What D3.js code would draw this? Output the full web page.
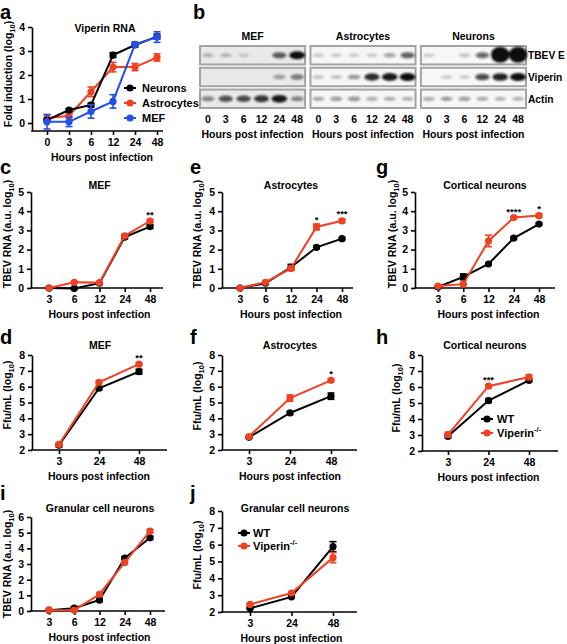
<!DOCTYPE html>
<html><head><meta charset="utf-8">
<script src="https://cdn.jsdelivr.net/npm/d3@7"></script>
<style>
body{margin:0;background:#fff}
svg{display:block}
text{font-family:"Liberation Sans",Arial,Helvetica,sans-serif;font-weight:bold;fill:#000}
</style>
</head><body>
<svg id="chart" width="567" height="644"></svg>
<script>
// ---------------- DATA ----------------
// Panel a: Viperin RNA fold induction (log10)
const hoursA = ["0","3","6","12","24","48"];
const aYTicks = [0,1,2,3,4];
const aNeurons = [0.12,0.54,0.75,2.83,3.25,3.6];
const aNeuronsErr = [0.05,0.06,0.08,0.1,0.08,0.1];
const aAstro = [0.2,0.3,1.3,2.33,2.33,2.73];
const aAstroErr = [0.15,0.1,0.2,0.2,0.15,0.15];
const aMEF = [0.05,0.05,0.48,0.9,3.28,3.58];
const aMEFErr = [0.3,0.2,0.28,0.28,0.1,0.22];
const aLegend = ["Neurons","Astrocytes","MEF"];

// Panel b: western blot band intensities (0..1, >1 saturated)
const blotLanes = ["0","3","6","12","24","48"];
const blotProteins = ["TBEV E","Viperin","Actin"];
const blotCells = ["MEF","Astrocytes","Neurons"];
const mefBands = [[0.12,0.12,0.02,0,0.6,1.0],[0,0,0,0,0.28,0.45],[0.4,0.65,0.7,0.8,0.95,0.4]];
const astroBands = [[0.06,0.06,0.05,0.05,0.25,0.6],[0.1,0.1,0.32,0.85,0.95,1.0],[0.2,0.28,0.32,0.18,0.18,0.16]];
const neuronBands = [[0.05,0,0.1,0.55,1.4,1.4],[0,0.05,0.05,0.7,0.9,1.0],[0.22,0.26,0.28,0.2,0.15,0.15]];

// TBEV RNA panels (c, e, g)
const hoursRNA = ["3","6","12","24","48"];
const rnaTicks = [0,1,2,3,4,5];
const cWT = [0,-0.02,0.25,2.65,3.2],  cWTErr = [0.03,0.03,0.05,0.08,0.1];
const cKO = [0,0.3,0.28,2.72,3.49],   cKOErr = [0.03,0.05,0.05,0.08,0.08];
const cStars = ["","","","","**"];
const eWT = [0,0.25,1.08,2.12,2.57], eWTErr = [0.03,0.05,0.15,0.08,0.06];
const eKO = [0,0.3,1.02,3.18,3.5],   eKOErr = [0.03,0.05,0.1,0.15,0.1];
const eStars = ["","","","*","***"];
const gWT = [0.05,0.58,1.25,2.6,3.33], gWTErr = [0.03,0.15,0.05,0.05,0.06];
const gKO = [0.1,0.2,2.45,3.67,3.77],  gKOErr = [0.03,0.03,0.3,0.05,0.1];
const gStars = ["","","","****","*"];

// Ffu panels (d, f, h)
const hoursFfu = ["3","24","48"];
const ffuTicks = [2,3,4,5,6,7,8];
const dWT = [2.3,5.9,6.95],  dWTErr = [0.1,0.1,0.15];
const dKO = [2.35,6.28,7.42], dKOErr = [0.1,0.1,0.08];
const dStars = ["","","**"];
const fWT = [2.8,4.34,5.4],  fWTErr = [0.05,0.1,0.2];
const fKO = [2.85,5.28,6.4], fKOErr = [0.05,0.2,0.1];
const fStars = ["","","*"];
const hWT = [2.92,5.15,6.42], hWTErr = [0.1,0.12,0.08];
const hKO = [3.02,6.05,6.62], hKOErr = [0.15,0.08,0.15];
const hStars = ["","***",""];

// Granular cell neurons (i, j)
const rnaTicksI = [0,1,2,3,4,5,6];
const iWT = [0.05,0.18,0.7,3.38,4.67], iWTErr = [0.03,0.1,0.1,0.08,0.1];
const iKO = [0.05,0.05,1.07,3.1,5.1],  iKOErr = [0.03,0.03,0.1,0.1,0.1];
const jWT = [2.22,2.9,5.88], jWTErr = [0.05,0.05,0.3];
const jKO = [2.45,3.13,5.23], jKOErr = [0.05,0.05,0.3];
const legendKO = ["WT","Viperin"];

// ---------------- STYLE ----------------
const BLACK = "#000", RED = "#ef4123", BLUE = "#2350e6";
const FS = 10.5;
const svg = d3.select("#chart");

function panelLetter(t, x, y){
  svg.append("text").attr("x",x).attr("y",y).attr("font-size",20).text(t);
}

function yLabel(x, cy, main, sub, tail){
  const t = svg.append("text").attr("transform",`translate(${x},${cy}) rotate(-90)`)
    .attr("text-anchor","middle").attr("font-size",FS);
  t.append("tspan").text(main);
  t.append("tspan").attr("font-size",7.5).attr("dy",3).text(sub);
  t.append("tspan").attr("dy",-3).text(tail);
}

function drawSeries(g, x, y, cats, vals, errs, color){
  const pts = cats.map((c,i)=>({c, v:vals[i], e:errs[i]}));
  g.append("path").datum(pts)
    .attr("fill","none").attr("stroke",color).attr("stroke-width",2)
    .attr("d", d3.line().x(d=>x(d.c)).y(d=>y(d.v)));
  const eb = g.append("g").attr("stroke",color).attr("stroke-width",1.6);
  pts.forEach(d=>{
    const cx = x(d.c);
    eb.append("line").attr("x1",cx).attr("x2",cx).attr("y1",y(d.v-d.e)).attr("y2",y(d.v+d.e));
    eb.append("line").attr("x1",cx-3.5).attr("x2",cx+3.5).attr("y1",y(d.v-d.e)).attr("y2",y(d.v-d.e));
    eb.append("line").attr("x1",cx-3.5).attr("x2",cx+3.5).attr("y1",y(d.v+d.e)).attr("y2",y(d.v+d.e));
  });
  g.append("g").selectAll("circle").data(pts).join("circle")
    .attr("cx",d=>x(d.c)).attr("cy",d=>y(d.v)).attr("r",3.6).attr("fill",color);
}

function linePanel(cfg){
  const g = svg.append("g");
  const x = d3.scalePoint().domain(cfg.cats).range(cfg.xr);
  const y = d3.scaleLinear().domain(cfg.yd).range(cfg.yr);
  const ya = g.append("g").attr("transform",`translate(${cfg.x0},0)`)
    .call(d3.axisLeft(y).tickValues(cfg.yticks).tickSize(4).tickSizeOuter(0).tickPadding(3).tickFormat(d3.format("d")));
  ya.select(".domain").attr("stroke-width",1.6);
  ya.selectAll(".tick line").attr("stroke-width",1.6);
  ya.selectAll(".tick text").attr("font-size",FS).attr("font-family",null);
  const base = cfg.yr[0];
  const xa = g.append("g").attr("transform",`translate(0,${base})`)
    .call(d3.axisBottom(x).tickSize(4).tickSizeOuter(0).tickPadding(4));
  xa.select(".domain").remove();
  xa.selectAll(".tick line").attr("stroke-width",1.6);
  xa.selectAll(".tick text").attr("font-size",FS).attr("font-family",null);
  g.append("line").attr("x1",cfg.x0-0.8).attr("x2",cfg.xEnd).attr("y1",base).attr("y2",base)
    .attr("stroke","#000").attr("stroke-width",1.6);
  g.append("text").attr("x",(cfg.xr[0]+cfg.xr[1])/2).attr("y",base+30)
    .attr("text-anchor","middle").attr("font-size",FS).text("Hours post infection");
  g.append("text").attr("x",cfg.titleX ?? (cfg.xr[0]+cfg.xr[1])/2).attr("y",cfg.titleY)
    .attr("text-anchor","middle").attr("font-size",FS).text(cfg.title);
  cfg.series.forEach(s=>drawSeries(g,x,y,cfg.cats,s.v,s.e,s.c));
  if(cfg.stars){
    cfg.cats.forEach((c,i)=>{
      if(!cfg.stars[i]) return;
      const top = Math.max(...cfg.series.map(s=>s.v[i]+s.e[i]));
      g.append("text").attr("x",x(c)).attr("y",y(top)-1.5).attr("text-anchor","middle")
        .attr("font-size",9.5).text(cfg.stars[i]);
    });
  }
  return {g,x,y};
}

function legend(items, lx, ys, tx){
  items.forEach((it,i)=>{
    const gy = ys[i];
    svg.append("line").attr("x1",lx-6).attr("x2",lx+6).attr("y1",gy).attr("y2",gy)
      .attr("stroke",it.c).attr("stroke-width",2);
    svg.append("circle").attr("cx",lx).attr("cy",gy).attr("r",3.6).attr("fill",it.c);
    const t = svg.append("text").attr("x",tx).attr("y",gy+4).attr("font-size",FS+0.5);
    t.append("tspan").text(it.t);
    if(it.sup) t.append("tspan").attr("font-size",7.5).attr("dy",-5).text(it.sup);
  });
}

// ---------------- PANEL a ----------------
panelLetter("a",0,18.5);
linePanel({cats:hoursA, xr:[47,157], x0:32, xEnd:163, yd:[-1/3,4], yr:[131,27], yticks:aYTicks,
  title:"Viperin RNA", titleX:105, titleY:32,
  series:[{v:aAstro,e:aAstroErr,c:RED},{v:aNeurons,e:aNeuronsErr,c:BLACK},{v:aMEF,e:aMEFErr,c:BLUE}]});
yLabel(12,74,"Fold induction (log","10",")");
legend([{t:aLegend[0],c:BLACK},{t:aLegend[1],c:RED},{t:aLegend[2],c:BLUE}],130,[88,103,118],142);

// ---------------- PANEL b ----------------
panelLetter("b",193,18.5);
(function(){
  const defs = svg.append("defs");
  defs.append("filter").attr("id","blur").attr("x","-50%").attr("y","-80%").attr("width","200%").attr("height","260%")
    .append("feGaussianBlur").attr("stdDeviation",1.1);
  const cellX = d3.scaleBand().domain(blotCells).range([199,527]).paddingInner(0.03);
  const rowY = d3.scaleBand().domain(blotProteins).range([45,109]).paddingInner(0.06);
  const data = {"MEF":mefBands,"Astrocytes":astroBands,"Neurons":neuronBands};
  const bg = {"MEF":"#e9e9e9","Astrocytes":"#f6f6f6","Neurons":"#f7f7f7"};
  blotCells.forEach(cell=>{
    const bx = cellX(cell), bw = cellX.bandwidth();
    const lane = d3.scalePoint().domain(blotLanes).range([bx,bx+bw]).padding(0.5);
    svg.append("text").attr("x",bx+bw/2).attr("y",40).attr("text-anchor","middle").attr("font-size",FS).text(cell);
    blotProteins.forEach((p,pi)=>{
      const ry0 = rowY(p), rh = rowY.bandwidth();
      svg.append("rect").attr("x",bx+1).attr("y",ry0+1).attr("width",bw-2).attr("height",rh-2)
        .attr("fill",bg[cell]).attr("stroke","#a3a3a3").attr("stroke-width",2);
      const cy = ry0 + rh/2;
      const bands = svg.append("g").attr("filter","url(#blur)");
      blotLanes.forEach((l,li)=>{
        const v = data[cell][pi][li];
        if(v<=0) return;
        const big = v>1;
        bands.append("ellipse").attr("cx",lane(l)).attr("cy",big?cy-0.5:cy)
          .attr("rx",big?9.2:5.5+2.5*v).attr("ry",big?8:1.6+2.4*v)
          .attr("fill","#111").attr("opacity",Math.min(1,0.15+0.85*v));
      });
    });
    lane.domain().forEach(l=>{
      svg.append("text").attr("x",lane(l)).attr("y",123).attr("text-anchor","middle").attr("font-size",FS).text(l);
    });
    svg.append("text").attr("x",bx+bw/2).attr("y",138).attr("text-anchor","middle").attr("font-size",FS).text("Hours post infection");
  });
  blotProteins.forEach(p=>{
    svg.append("text").attr("x",528).attr("y",rowY(p)+rowY.bandwidth()/2+4).attr("font-size",10.2).text(p);
  });
})();

// ---------------- PANELS c, e, g ----------------
panelLetter("c",0,174);
linePanel({cats:hoursRNA, xr:[49,150], x0:31, xEnd:163, yd:[0,5], yr:[288,192], yticks:rnaTicks,
  title:"MEF", titleY:189, stars:cStars,
  series:[{v:cWT,e:cWTErr,c:BLACK},{v:cKO,e:cKOErr,c:RED}]});
yLabel(11,234,"TBEV RNA (a.u. log","10",")");

panelLetter("e",190,174);
linePanel({cats:hoursRNA, xr:[240,342], x0:222, xEnd:353, yd:[0,5], yr:[288,192], yticks:rnaTicks,
  title:"Astrocytes", titleY:189, stars:eStars,
  series:[{v:eWT,e:eWTErr,c:BLACK},{v:eKO,e:eKOErr,c:RED}]});
yLabel(201,234,"TBEV RNA (a.u. log","10",")");

panelLetter("g",376,174);
linePanel({cats:hoursRNA, xr:[438,539], x0:415, xEnd:555, yd:[0,5], yr:[288,192], yticks:rnaTicks,
  title:"Cortical neurons", titleX:485, titleY:189, stars:gStars,
  series:[{v:gWT,e:gWTErr,c:BLACK},{v:gKO,e:gKOErr,c:RED}]});
yLabel(396,234,"TBEV RNA (a.u. log","10",")");

// ---------------- PANELS d, f, h ----------------
panelLetter("d",0,344);
linePanel({cats:hoursFfu, xr:[59,139], x0:32, xEnd:167, yd:[2,8], yr:[450,355], yticks:ffuTicks,
  title:"MEF", titleX:100, titleY:349, stars:dStars,
  series:[{v:dWT,e:dWTErr,c:BLACK},{v:dKO,e:dKOErr,c:RED}]});
yLabel(11,395,"Ffu/mL (log","10",")");

panelLetter("f",190,344);
linePanel({cats:hoursFfu, xr:[249,331], x0:222, xEnd:357, yd:[2,8], yr:[450,355], yticks:ffuTicks,
  title:"Astrocytes", titleY:349, stars:fStars,
  series:[{v:fWT,e:fWTErr,c:BLACK},{v:fKO,e:fKOErr,c:RED}]});
yLabel(201,396,"Ffu/mL (log","10",")");

panelLetter("h",376,344);
linePanel({cats:hoursFfu, xr:[448,529], x0:422, xEnd:558, yd:[2,8], yr:[451,355], yticks:ffuTicks,
  title:"Cortical neurons", titleX:485, titleY:349, stars:hStars,
  series:[{v:hWT,e:hWTErr,c:BLACK},{v:hKO,e:hKOErr,c:RED}]});
yLabel(400,398,"Ffu/mL (log","10",")");
legend([{t:legendKO[0],c:BLACK},{t:legendKO[1],sup:"-/-",c:RED}],487,[419,433],497);

// ---------------- PANELS i, j ----------------
panelLetter("i",0,500);
linePanel({cats:hoursRNA, xr:[49,150], x0:31, xEnd:165, yd:[0,6], yr:[611,517], yticks:rnaTicksI,
  title:"Granular cell neurons", titleX:100, titleY:512,
  series:[{v:iWT,e:iWTErr,c:BLACK},{v:iKO,e:iKOErr,c:RED}]});
yLabel(11,564,"TBEV RNA (a.u. log","10",")");

panelLetter("j",190,500);
linePanel({cats:hoursFfu, xr:[250,333], x0:222, xEnd:357, yd:[2,8], yr:[612,511], yticks:ffuTicks,
  title:"Granular cell neurons", titleX:295, titleY:512,
  series:[{v:jWT,e:jWTErr,c:BLACK},{v:jKO,e:jKOErr,c:RED}]});
yLabel(201,555,"Ffu/mL (log","10",")");
legend([{t:legendKO[0],c:BLACK},{t:legendKO[1],sup:"-/-",c:RED}],244,[533,546],253);
</script>
</body></html>
